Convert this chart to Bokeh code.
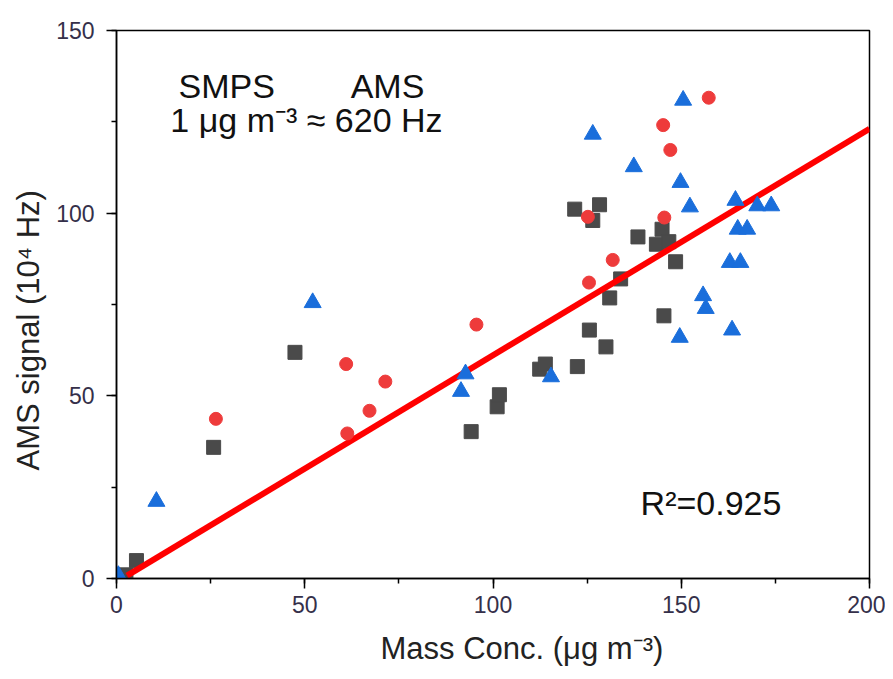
from bokeh.plotting import figure
from bokeh.models import SingleIntervalTicker, Range1d, Label, Title
from bokeh.embed import file_html
from bokeh.resources import INLINE

# --- data ---
smps_x = [2.5, 5.3, 25.8, 47.4, 94.2, 101.1, 101.7, 112.4, 113.9, 122.4, 121.7, 128.3,
          126.5, 125.6, 130.0, 131.0, 133.9, 138.5, 143.4, 144.9, 146.7, 148.5, 145.4]
smps_y = [1.0, 4.9, 35.9, 61.9, 40.2, 47.0, 50.3, 57.3, 58.7, 58.0, 101.1, 102.3,
          98.0, 68.0, 63.4, 76.8, 82.0, 93.5, 91.5, 95.6, 92.2, 86.7, 71.9]

red_x = [26.4, 61.0, 61.3, 67.2, 71.4, 95.6, 125.2, 125.5, 131.8, 145.5, 147.1, 145.2, 157.3]
red_y = [43.7, 58.7, 39.7, 45.9, 53.9, 69.5, 99.0, 81.0, 87.2, 98.8, 117.3, 124.1, 131.6]

blue_x = [0.5, 10.6, 52.1, 92.7, 91.5, 115.4, 126.5, 137.4, 150.5, 149.8, 152.3, 164.4,
          170.2, 173.9, 165.0, 167.5, 162.9, 165.7, 155.8, 156.5, 163.5, 149.6]
blue_y = [0.8, 21.1, 75.5, 56.0, 51.2, 55.2, 121.6, 112.7, 130.9, 108.4, 101.7, 103.5,
          102.0, 102.0, 95.6, 95.6, 86.5, 86.5, 77.4, 73.9, 68.0, 66.0]

fit_x = [2.8, 200.0]
fit_y = [0.8, 123.1]

x_ticks_interval = 50
y_ticks_interval = 50

x_label = "Mass Conc. (\u03bcg m\u207b\u00b3)"
y_label = "AMS signal (10\u2074 Hz)"

FONT = "Liberation Sans"

p = figure(width=885, height=679, output_backend="svg", toolbar_location=None,
           x_range=Range1d(0, 200), y_range=Range1d(0, 150),
           min_border_left=116, min_border_top=30, min_border_right=16, min_border_bottom=101)

p.xgrid.visible = False
p.ygrid.visible = False
p.outline_line_color = "black"
p.outline_line_width = 1.5
p.outline_line_alpha = 1.0

p.xaxis.ticker = SingleIntervalTicker(interval=x_ticks_interval, num_minor_ticks=2)
p.yaxis.ticker = SingleIntervalTicker(interval=y_ticks_interval, num_minor_ticks=2)

for ax in (p.xaxis, p.yaxis):
    ax.axis_line_color = "black"
    ax.axis_line_width = 1.5
    ax.major_tick_line_color = "black"
    ax.major_tick_line_width = 1.5
    ax.minor_tick_line_color = "black"
    ax.minor_tick_line_width = 1.5
    ax.major_tick_out = 10
    ax.major_tick_in = 0
    ax.minor_tick_out = 5
    ax.minor_tick_in = 0
    ax.major_label_text_font = FONT
    ax.major_label_text_font_size = "23px"
    ax.major_label_text_color = "#35304a"
    ax.major_label_text_line_height = 1.0

p.xaxis.major_label_standoff = 7
p.yaxis.major_label_standoff = 12

# scatter series
p.scatter(smps_x, smps_y, marker="square", size=14, fill_color="#4a4a4a", line_color="#4a4a4a")
p.line(fit_x, fit_y, line_color="#ff0000", line_width=6)
p.scatter(red_x, red_y, marker="circle", size=13, fill_color="#ee3b3b", line_color="#ee3b3b")
p.scatter(blue_x, blue_y, marker="triangle", size=17, fill_color="#1a6edb", line_color="#1a6edb")

# axis titles as Title objects (off-centre like the reference)
p.add_layout(Title(text=x_label, align="left", offset=264, standoff=26,
                   text_font=FONT, text_font_size="31px", text_font_style="normal",
                   text_color="#222222", text_line_height=1.0), "below")
p.add_layout(Title(text=y_label, align="left", offset=108, standoff=16,
                   text_font=FONT, text_font_size="31px", text_font_style="normal",
                   text_color="#222222", text_line_height=1.0), "left")

# annotations
ann = dict(text_font=FONT, text_font_size="34px", text_color="#111111",
           text_baseline="alphabetic", text_align="left")
p.add_layout(Label(x=16.5, y=134.9, text="SMPS", **ann))
p.add_layout(Label(x=62.2, y=134.9, text="AMS", **ann))
p.add_layout(Label(x=14.3, y=125.4, text="1 \u03bcg m\u207b\u00b3 \u2248 620 Hz", **ann))
p.add_layout(Label(x=139.2, y=20.8, text="R\u00b2=0.925", **ann))

open("out.html", "w").write(file_html(p, INLINE))
